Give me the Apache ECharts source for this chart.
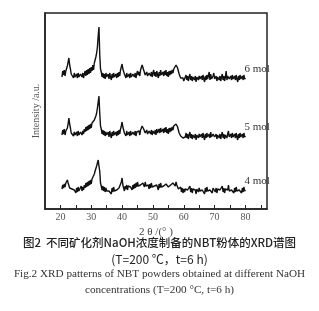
<!DOCTYPE html>
<html>
<head>
<meta charset="utf-8">
<script src="https://cdn.jsdelivr.net/npm/echarts@6/dist/echarts.min.js"></script>
<style>
  html, body { margin: 0; padding: 0; background: #fff; }
  #chart { width: 319px; height: 311px; }
</style>
</head>
<body>
<div id="chart"></div>
<script>
// 2θ 采样：20.5° 起，步长 0.25°
var START = 20.5, STEP = 0.25;

var names = ['6 mol', '5 mol', '4 mol'];

// 6 mol
var mol6 = [
  132,138,134,139,133,138,140,143,147,151,144,140,135,133,137,131,136,132,130,135,
  131,136,132,130,135,137,132,136,131,135,138,133,139,134,140,135,141,136,142,138,
  144,139,146,149,152,156,162,173,182,155,140,137,132,136,131,135,130,136,132,131,
  135,130,136,132,129,135,131,136,132,130,135,131,136,132,137,133,139,142,145,140,
  139,135,135,131,136,132,130,135,131,136,132,130,135,137,132,136,131,135,138,134,
  137,133,139,141,144,145,139,138,134,132,137,133,131,136,138,133,137,132,136,139,
  133,137,132,138,134,131,137,133,139,134,132,137,133,138,134,139,133,137,132,138,
  134,138,135,139,136,140,142,139,144,145,141,140,135,133,131,132,129,131,128,130,
  130,134,129,133,128,132,135,129,133,128,132,134,129,133,127,132,134,129,133,130,
  128,133,129,134,130,127,133,129,134,130,128,137,129,135,130,128,133,136,130,131,
  133,128,132,134,129,133,128,132,135,129,133,128,132,138,129,133,135,130,128,133,
  129,134,130,128,133,129,134,130,127,133,129,134,130,128,133,129,134,130,131
];

// 5 mol
var mol5 = [
  74,79,75,80,74,78,79,81,85,91,85,81,76,74,78,73,77,74,72,77,
  73,78,74,72,77,79,74,78,75,80,77,82,78,83,79,84,80,85,81,86,
  85,85,89,91,93,96,101,107,113,96,83,80,75,79,74,78,73,77,74,73,
  77,72,78,74,71,77,73,78,74,72,77,73,78,74,79,75,80,83,87,82,
  80,76,76,73,78,74,72,77,73,78,74,72,77,79,74,78,73,77,79,75,
  78,74,79,81,83,85,80,80,76,75,79,75,73,78,80,75,79,74,78,80,
  75,79,74,80,76,75,80,76,81,77,75,80,76,81,77,82,76,80,75,81,
  77,81,78,82,79,83,84,81,85,85,82,81,76,77,73,74,74,71,73,72,
  72,76,71,75,70,74,77,71,75,70,74,76,71,75,69,74,76,71,75,72,
  70,75,71,76,72,69,75,71,76,72,70,75,71,77,72,70,75,77,72,73,
  75,70,74,76,71,75,70,74,77,71,75,70,74,76,71,75,78,72,70,75,
  71,76,72,70,75,71,76,72,69,75,71,76,72,70,75,71,76,72,73
];

// 4 mol
var mol4 = [
  20,24,21,25,22,26,28,29,26,26,21,21,20,20,20,19,19,20,16,21,
  17,22,18,18,19,23,18,22,19,24,21,26,22,27,23,28,24,29,25,30,
  32,29,35,38,40,43,46,49,43,38,26,23,19,23,18,22,17,21,18,19,
  19,18,20,20,15,21,17,22,18,18,19,19,20,20,21,21,22,27,31,24,
  22,18,23,20,24,19,23,23,22,22,23,19,24,20,25,21,26,22,27,23,
  23,24,24,25,25,26,26,22,27,23,23,24,24,20,25,21,26,22,22,23,
  23,23,22,24,24,19,25,21,26,22,22,23,23,24,24,25,23,23,22,24,
  24,24,25,25,26,26,27,23,27,24,24,20,21,18,22,17,21,16,20,17,
  20,20,19,19,18,18,23,17,21,16,20,20,19,19,15,20,20,17,21,18,
  18,19,19,20,20,15,21,17,22,18,18,19,19,21,20,16,21,21,20,17,
  21,16,20,20,19,19,18,18,23,17,21,16,20,20,19,19,24,18,18,19,
  19,20,20,16,21,17,22,18,17,19,19,20,20,16,21,17,22,18,19
];

var xTickLabels = [20, 30, 40, 50, 60, 70, 80];

function pairs(arr) {
  return arr.map(function(v, i) { return [START + i * STEP, v]; });
}

var chart = echarts.init(document.getElementById('chart'));
var serif = 'Liberation Serif';

chart.setOption({
  animation: false,
  backgroundColor: '#fff',
  grid: {
    left: 45, top: 13, width: 222, height: 196,
    show: true, borderColor: '#222', borderWidth: 1.5
  },
  xAxis: {
    type: 'value', min: 15, max: 87, interval: 5,
    name: '2 θ /(° )', nameLocation: 'middle', nameGap: 6,
    nameTextStyle: { fontFamily: serif, fontSize: 11, color: '#444', verticalAlign: 'top' },
    axisLine: { show: true, lineStyle: { color: '#222', width: 1.5 } },
    axisTick: { show: true, inside: true, length: 4, lineStyle: { color: '#222' } },
    axisLabel: {
      margin: 3, fontFamily: serif, fontSize: 10, color: '#555',
      showMinLabel: false, showMaxLabel: false,
      formatter: function(v) { return xTickLabels.indexOf(v) >= 0 ? v : ''; }
    },
    splitLine: { show: false }
  },
  yAxis: {
    type: 'value', min: 0, max: 196,
    name: 'Intensity /a.u.', nameLocation: 'middle', nameGap: 4, nameRotate: 90,
    nameTextStyle: { fontFamily: serif, fontSize: 10, color: '#555' },
    axisLine: { show: true, lineStyle: { color: '#222', width: 1.5 } },
    axisTick: { show: false }, axisLabel: { show: false }, splitLine: { show: false }
  },
  series: [mol6, mol5, mol4].map(function(d, i) {
    return {
      name: names[i], type: 'line', data: pairs(d),
      showSymbol: false, symbol: 'none',
      lineStyle: { color: '#111', width: 1.4 },
      endLabel: {
        show: true, formatter: '{a}', offset: [-9, -9],
        fontFamily: serif, fontSize: 11, color: '#333'
      }
    };
  }),
  graphic: [
    { type: 'text', left: 'center', top: 237,
      style: { text: '图2  不同矿化剂NaOH浓度制备的NBT粉体的XRD谱图', font: '500 11.5px "Noto Sans CJK SC"', fill: '#222' } },
    { type: 'text', left: 'center', top: 253,
      style: { text: '(T=200 ℃，t=6 h)', font: '12px "Noto Sans CJK SC"', fill: '#222' } },
    { type: 'text', left: 'center', top: 269,
      style: { text: 'Fig.2 XRD patterns of NBT powders obtained at different NaOH', font: '11.2px "Liberation Serif"', fill: '#333' } },
    { type: 'text', left: 'center', top: 285,
      style: { text: 'concentrations (T=200 °C, t=6 h)', font: '11.2px "Liberation Serif"', fill: '#333' } }
  ]
});
</script>
</body>
</html>
